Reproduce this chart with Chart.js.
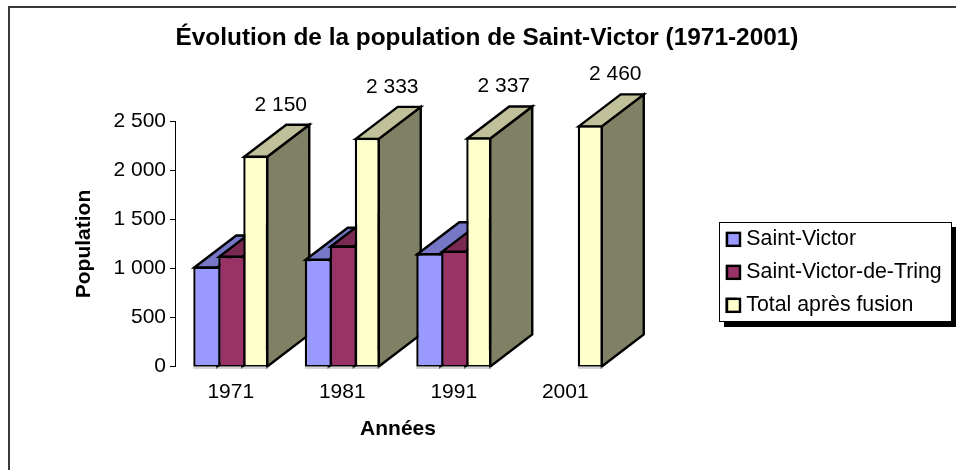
<!DOCTYPE html>
<html lang="fr"><head><meta charset="utf-8"><title>Population de Saint-Victor</title>
<style>html,body{margin:0;padding:0;background:#fff}canvas{display:block}</style>
<script src="https://cdn.jsdelivr.net/npm/chart.js@4"></script></head>
<body><canvas id="c" width="956" height="470"></canvas>
<script>
const categories = ['1971', '1981', '1991', '2001'];
const saintVictor = [1020, 1099, 1155, null];
const saintVictorDeTring = [1130, 1234, 1182, null];
const totalApresFusion = [2150, 2333, 2337, 2460];
const yTicks = [0, 500, 1000, 1500, 2000, 2500];

const FONT = '"Liberation Sans", Arial, sans-serif';
const DX = 42, DY = 32, STROKE = 2.4;
const fmt = v => String(v).replace(/\B(?=(\d{3})+$)/g, ' ');
const shade = [
  {front:'#9999FF', top:'#7777C8', side:'#7777C8'},
  {front:'#993366', top:'#7A2952', side:'#7A2952'},
  {front:'#FFFFCC', top:'#C0C09A', side:'#808064'}
];

function poly(ctx, pts, fill) {
  ctx.beginPath();
  pts.forEach((p, i) => i ? ctx.lineTo(p[0], p[1]) : ctx.moveTo(p[0], p[1]));
  ctx.closePath();
  ctx.fillStyle = fill; ctx.fill();
  ctx.lineWidth = STROKE; ctx.strokeStyle = '#000'; ctx.lineJoin = 'miter'; ctx.stroke();
}

const decor = {
  id: 'decor',
  afterLayout(chart) {
    const t = chart.titleBlock; t.left = 18; t.right = 956;
    const l = chart.legend;
    l.left = 715; l.top = 217; l.right = l.left + l.width; l.bottom = l.top + 120;
  },
  beforeDraw(chart) {
    const c = chart.ctx;
    c.save();
    c.fillStyle = '#3a3a3a';
    c.fillRect(8, 6, 948, 2);
    c.fillRect(8, 6, 2, 464);
    c.fillStyle = '#000';
    c.fillRect(724, 227, 233, 100);
    c.fillStyle = '#fff'; c.strokeStyle = '#000'; c.lineWidth = 1;
    c.fillRect(719, 222, 233, 100);
    c.strokeRect(719.5, 222.5, 232, 99);
    c.restore();
  },
  beforeDatasetsDraw(chart) {
    const c = chart.ctx;
    c.save();
    categories.forEach((_, i) => {
      chart.data.datasets.forEach((ds, d) => {
        if (ds.data[i] == null) return;
        const b = chart.getDatasetMeta(d).data[i];
        const l = b.x - b.width / 2 + 1, r = b.x + b.width / 2 - 1, t = b.y + 1, bo = b.base - 1;
        poly(c, [[r, t], [r + DX, t - DY], [r + DX, bo - DY], [r, bo]], shade[d].side);
        poly(c, [[l, t], [l + DX, t - DY], [r + DX, t - DY], [r, t]], shade[d].top);
      });
    });
    c.restore();
  },
  afterDatasetsDraw(chart) {
    const c = chart.ctx;
    c.save();
    c.fillStyle = '#aaaaaa';
    chart.data.datasets.forEach((ds, d) => ds.data.forEach((v, i) => {
      if (v == null) return;
      const b = chart.getDatasetMeta(d).data[i];
      c.fillRect(b.x - b.width / 2, b.base, b.width, 1);
    }));
    c.font = '21px ' + FONT; c.fillStyle = '#000';
    c.textAlign = 'center'; c.textBaseline = 'middle';
    const d = chart.data.datasets.length - 1;
    chart.data.datasets[d].data.forEach((v, i) => {
      const b = chart.getDatasetMeta(d).data[i];
      c.fillText(fmt(v), b.x + 25, b.y - DY - 19);
    });
    c.restore();
  },
  afterDraw(chart) {
    const c = chart.ctx;
    c.save();
    chart.legend.legendHitBoxes.forEach((h, i) => {
      const cy = h.top + h.height / 2;
      c.fillStyle = shade[i].front; c.strokeStyle = '#000'; c.lineWidth = STROKE;
      c.fillRect(727, cy - 6.5, 13, 13);
      c.strokeRect(727, cy - 6.5, 13, 13);
    });
    c.restore();
  }
};

const edge = {left:STROKE, top:STROKE, bottom:STROKE, right:0};
new Chart(document.getElementById('c'), {
  type: 'bar',
  data: {
    labels: categories,
    datasets: [
      {label:'Saint-Victor', data:saintVictor, backgroundColor:shade[0].front, borderColor:'#000', borderWidth:edge, borderSkipped:false},
      {label:'Saint-Victor-de-Tring', data:saintVictorDeTring, backgroundColor:shade[1].front, borderColor:'#000', borderWidth:edge, borderSkipped:false},
      {label:'Total après fusion', data:totalApresFusion, backgroundColor:shade[2].front, borderColor:'#000', borderWidth:STROKE, borderSkipped:false}
    ]
  },
  options: {
    responsive: false,
    animation: false,
    layout: {padding: {left: 72, right: 335, top: 0, bottom: 28.5}},
    datasets: {bar: {categoryPercentage: 75 / 111.5, barPercentage: 1, base: -10}},
    plugins: {
      tooltip: {enabled: false},
      title: {
        display: true,
        text: 'Évolution de la population de Saint-Victor (1971-2001)',
        color: '#000',
        font: {family: FONT, size: 24.4, weight: 'bold', lineHeight: 1.2},
        padding: {top: 23.4, bottom: 68.8}
      },
      legend: {
        position: 'chartArea',
        align: 'start',
        labels: {
          color: '#000',
          font: {family: FONT, size: 21.3},
          boxWidth: 9, boxHeight: 13, padding: 11.7
        }
      }
    },
    scales: {
      x: {
        grid: {display: false, drawTicks: false},
        border: {display: false},
        ticks: {color: '#000', font: {family: FONT, size: 21}, padding: 13, maxRotation: 0},
        title: {display: true, text: 'Années', color: '#000', padding: 0,
                font: {family: FONT, size: 21, weight: 'bold'}},
        afterFit(s) { s.height = 75; }
      },
      y: {
        min: 0, max: 2500,
        afterBuildTicks(s) { s.ticks = yTicks.map(v => ({value: v})); },
        grid: {drawOnChartArea: false, drawTicks: true, tickLength: 5, color: '#000'},
        border: {display: true, color: '#000', width: 1},
        ticks: {color: '#000', font: {family: FONT, size: 21}, padding: 4, callback: fmt},
        title: {display: true, text: 'Population', color: '#000', padding: 0,
                font: {family: FONT, size: 21, weight: 'bold'}},
        afterFit(s) { s.width = 103; }
      }
    }
  },
  plugins: [decor]
});
</script></body></html>
